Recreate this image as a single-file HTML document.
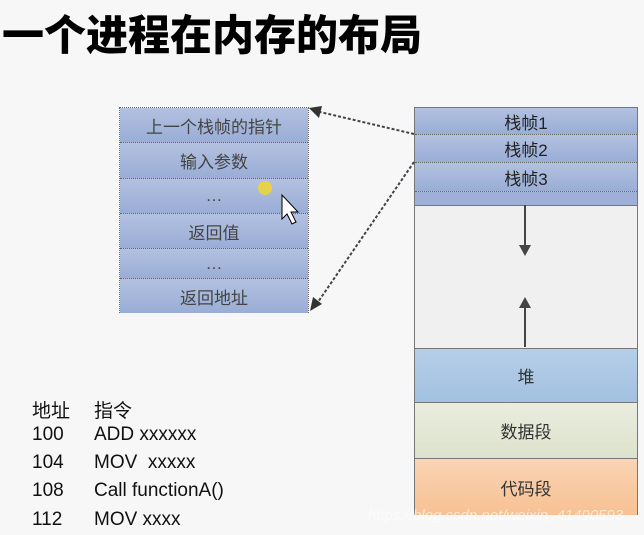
<!DOCTYPE html>
<html><head><meta charset="utf-8"><style>
body{margin:0;width:644px;height:535px;background:#f6f7f6;position:relative;overflow:hidden;font-family:"Liberation Sans","Noto Sans CJK SC",sans-serif;}
.a{position:absolute;box-sizing:border-box;}
.t{position:absolute;left:2px;top:2px;font-size:42px;font-weight:900;color:#000;letter-spacing:0px;white-space:nowrap;font-family:"Noto Sans CJK SC",sans-serif;}
.row{position:absolute;left:0;width:100%;display:flex;align-items:center;justify-content:center;color:#444;font-size:17px;border-bottom:1px dotted #666;background:linear-gradient(#b3c1e0,#9aadd6);box-sizing:border-box;}
.code{position:absolute;font-size:19px;color:#111;white-space:nowrap;}
</style></head><body>
<div class="t">一个进程在内存的布局</div>

<div class="a" style="left:119px;top:107px;width:190px;height:206px;border:1px dotted #666;">
<div class="row" style="top:0;height:35px">上一个栈帧的指针</div>
<div class="row" style="top:35px;height:36px">输入参数</div>
<div class="row" style="top:71px;height:35px">…</div>
<div class="row" style="top:106px;height:35px">返回值</div>
<div class="row" style="top:141px;height:30px">…</div>
<div class="row" style="top:171px;height:34px;border-bottom:none">返回地址</div>
</div>

<div class="a" style="left:414px;top:107px;width:224px;height:408px;border:1px solid #777;background:#f0f0f0;">
<div class="row" style="top:0;height:27px;color:#222">栈帧1</div>
<div class="row" style="top:27px;height:28px;color:#222">栈帧2</div>
<div class="row" style="top:55px;height:29px;color:#222">栈帧3</div>
<div class="a" style="left:0;top:84px;width:100%;height:14px;background:#9eb0d8;border-bottom:1px solid #777"></div>
<div class="row" style="top:240px;height:55px;background:linear-gradient(#b6cfe8,#a2c0e0);border-top:1px solid #777;border-bottom:1px solid #777;color:#333">堆</div>
<div class="row" style="top:295px;height:56px;background:linear-gradient(#eaeddf,#dde2cc);border-bottom:1px solid #777;color:#333">数据段</div>
<div class="row" style="top:351px;height:56px;background:linear-gradient(#fad4b4,#f7c193);border-bottom:none;color:#333">代码段</div>
</div>

<svg class="a" style="left:0;top:0" width="644" height="535">
<line x1="525" y1="205" x2="525" y2="247" stroke="#444" stroke-width="2"/>
<polygon points="519,245 531,245 525,256" fill="#444"/>
<line x1="525" y1="347" x2="525" y2="305" stroke="#444" stroke-width="2"/>
<polygon points="519,308 531,308 525,297" fill="#444"/>
<line x1="414" y1="134" x2="320" y2="112" stroke="#444" stroke-width="2" stroke-dasharray="3,2"/>
<polygon points="309,108 322,106 319,118" fill="#333"/>
<line x1="414" y1="162" x2="318" y2="302" stroke="#444" stroke-width="2" stroke-dasharray="3,2"/>
<polygon points="310,311 313,297 322,304" fill="#333"/>
<circle cx="265" cy="188" r="7" fill="#e6d24a"/>
<polygon points="282,195 282,219 287,214 292,224 296,222 291,212 298,212" fill="#fff" stroke="#000"/>
</svg>

<div class="code" style="left:32px;top:396px">地址</div><div class="code" style="left:94px;top:396px">指令</div>
<div class="code" style="left:32px;top:424px">100</div><div class="code" style="left:94px;top:424px">ADD xxxxxx</div>
<div class="code" style="left:32px;top:452px">104</div><div class="code" style="left:94px;top:452px">MOV &nbsp;xxxxx</div>
<div class="code" style="left:32px;top:480px">108</div><div class="code" style="left:94px;top:480px">Call functionA()</div>
<div class="code" style="left:32px;top:509px">112</div><div class="code" style="left:94px;top:509px">MOV xxxx</div>
<div class="code" style="left:368px;top:507px;font-size:15px;color:rgba(255,255,255,0.6);font-style:italic">https://blog.csdn.net/weixin_41490593</div>
</body></html>
